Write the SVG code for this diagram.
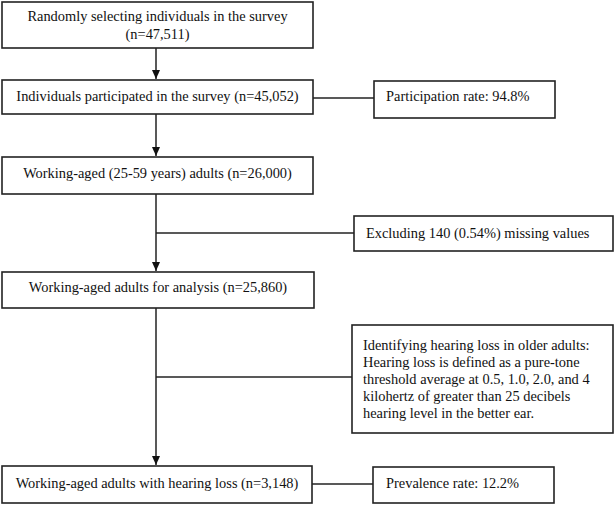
<svg xmlns="http://www.w3.org/2000/svg" width="615" height="505" viewBox="0 0 615 505">
<style>
.box{fill:#fff;stroke:#222;stroke-width:1.6}
.ln{fill:none;stroke:#222;stroke-width:1.5}
text{font-family:"Liberation Serif","Times New Roman",serif;font-size:14.4px;fill:#111}
.c{text-anchor:middle}
</style>
<defs>
<marker id="ah" markerWidth="10" markerHeight="10" refX="9" refY="5" orient="auto" markerUnits="userSpaceOnUse">
<path d="M0,1 L9,5 L0,9 Z" fill="#111"/>
</marker>
</defs>
<rect width="615" height="505" fill="#fff"/>
<g id="connectors">
<line class="ln" x1="156" y1="48" x2="156" y2="79" marker-end="url(#ah)"/>
<line class="ln" x1="313" y1="98" x2="374" y2="98"/>
<line class="ln" x1="156" y1="114" x2="156" y2="156" marker-end="url(#ah)"/>
<line class="ln" x1="156" y1="194" x2="156" y2="271" marker-end="url(#ah)"/>
<line class="ln" x1="156" y1="233" x2="354" y2="233"/>
<line class="ln" x1="156" y1="308" x2="156" y2="465" marker-end="url(#ah)"/>
<line class="ln" x1="156" y1="377" x2="352" y2="377"/>
<line class="ln" x1="312" y1="484" x2="373" y2="484"/>
</g>
<g id="n1">
<rect class="box" x="2" y="2" width="311" height="46"/>
<text class="c" x="157.5" y="21">Randomly selecting individuals in the survey</text>
<text class="c" x="157.5" y="39">(n=47,511)</text>
</g>
<g id="n2">
<rect class="box" x="2" y="80" width="311" height="34"/>
<text class="c" x="157.5" y="101">Individuals participated in the survey (n=45,052)</text>
</g>
<g id="n2b">
<rect class="box" x="374" y="81" width="181" height="37"/>
<text x="386" y="101">Participation rate: 94.8%</text>
</g>
<g id="n3">
<rect class="box" x="2" y="157" width="311" height="37"/>
<text class="c" x="157.5" y="178">Working-aged (25-59 years) adults (n=26,000)</text>
</g>
<g id="n3b">
<rect class="box" x="354" y="216" width="259" height="35"/>
<text x="366" y="238">Excluding 140 (0.54%) missing values</text>
</g>
<g id="n4">
<rect class="box" x="2" y="272" width="312" height="36"/>
<text class="c" x="158" y="292">Working-aged adults for analysis (n=25,860)</text>
</g>
<g id="n4b">
<rect class="box" x="352" y="325" width="261" height="108"/>
<text x="363" y="350">Identifying hearing loss in older adults:</text>
<text x="363" y="367">Hearing loss is defined as a pure-tone</text>
<text x="363" y="384">threshold average at 0.5, 1.0, 2.0, and 4</text>
<text x="363" y="401">kilohertz of greater than 25 decibels</text>
<text x="363" y="418">hearing level in the better ear.</text>
</g>
<g id="n5">
<rect class="box" x="2" y="466" width="310" height="37"/>
<text class="c" x="157" y="488">Working-aged adults with hearing loss (n=3,148)</text>
</g>
<g id="n5b">
<rect class="box" x="373" y="467" width="181" height="36"/>
<text x="386" y="488">Prevalence rate: 12.2%</text>
</g>
</svg>
